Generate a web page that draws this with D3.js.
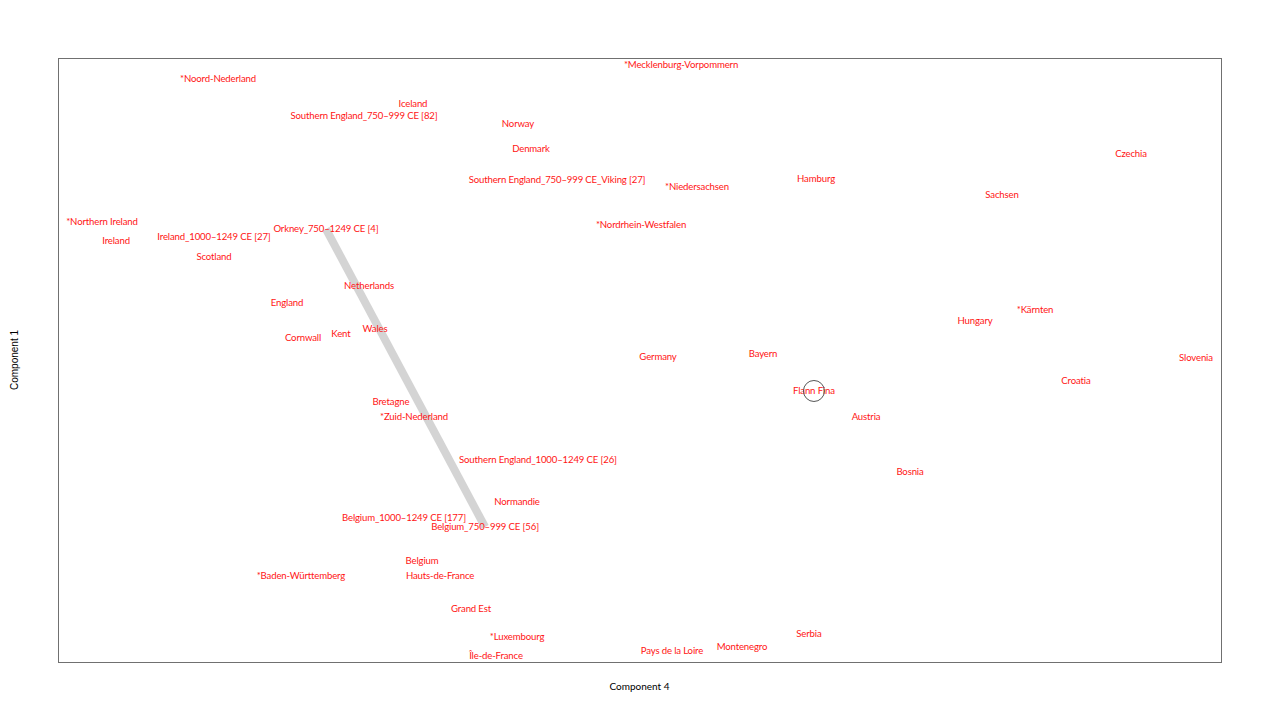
<!DOCTYPE html>
<html lang="en">
<head>
<meta charset="UTF-8">
<script src="https://d3js.org/d3.v7.min.js"></script>
<title>Component plot</title>
<style>
  body { margin: 0; background: #fff; }
  .frame { fill: none; stroke: #707070; stroke-width: 1; shape-rendering: crispEdges; }
  .lab { font-family: Lato, "Open Sans", sans-serif; font-size: 9.6px; letter-spacing: -0.15px; fill: #ff1414; }
  .title { font-family: Lato, "Liberation Sans", sans-serif; font-size: 10px; fill: #000; }
</style>
</head>
<body>
<div class="chart"></div>
<script>
// population labels and their scores on component 4 (x) and component 1 (y)
var names = [
  "*Mecklenburg-Vorpommern", "*Noord-Nederland", "Iceland", "Southern England_750\u2013999 CE [82]",
  "Norway", "Denmark", "Czechia", "Hamburg", "Southern England_750\u2013999 CE_Viking [27]",
  "*Niedersachsen", "Sachsen", "*Nordrhein-Westfalen", "*Northern Ireland", "Orkney_750\u20131249 CE [4]",
  "Ireland", "Ireland_1000\u20131249 CE [27]", "Scotland", "Netherlands", "England", "*K\u00e4rnten",
  "Hungary", "Wales", "Kent", "Cornwall", "Bayern", "Germany", "Slovenia", "Croatia", "Flann Fina",
  "Bretagne", "*Zuid-Nederland", "Austria", "Southern England_1000\u20131249 CE [26]", "Bosnia",
  "Normandie", "Belgium_1000\u20131249 CE [177]", "Belgium_750\u2013999 CE [56]", "Belgium",
  "*Baden-W\u00fcrttemberg", "Hauts-de-France", "Grand Est", "Serbia", "*Luxembourg", "Montenegro",
  "Pays de la Loire", "\u00cele-de-France"
];
var comp4 = [
  53.57, 13.76, 30.52, 26.31, 39.55, 40.67, 92.26, 65.18, 42.91, 54.94, 81.17, 50.13, 3.78, 23.04,
  4.99, 13.41, 13.41, 26.74, 19.69, 84.01, 78.85, 27.26, 24.33, 21.07, 60.62, 51.59, 97.85, 87.53,
  65.00, 28.63, 30.61, 69.48, 41.27, 73.26, 39.47, 29.75, 36.72, 31.30, 20.89, 32.85, 35.51, 64.57,
  39.47, 58.81, 52.79, 37.66
];
var comp1 = [
  98.84, 96.52, 92.38, 90.40, 89.07, 84.93, 84.11, 79.97, 79.80, 78.64, 77.32, 72.35, 72.85, 71.69,
  69.70, 70.36, 67.05, 62.25, 59.44, 58.28, 56.46, 55.13, 54.30, 53.64, 50.99, 50.50, 50.33, 46.52,
  44.87, 43.05, 40.56, 40.56, 33.44, 31.46, 26.49, 23.84, 22.35, 16.72, 14.24, 14.24, 8.77, 4.64,
  4.14, 2.48, 1.82, 0.99
];
// the grey segment joins these two samples, the circle marks the highlighted one
var linkPair = ["Orkney_750\u20131249 CE [4]", "Belgium_750\u2013999 CE [56]"];
var highlight = "Flann Fina";

var W = 1279, H = 721;
var margin = {top: 58, right: 58, bottom: 59, left: 58};

var data = names.map(function(n, i) { return {name: n, x: comp4[i], y: comp1[i]}; });
var byName = {};
data.forEach(function(d) { byName[d.name] = d; });

var x = d3.scaleLinear().domain([0, 100]).range([margin.left, W - margin.right]);
var y = d3.scaleLinear().domain([0, 100]).range([H - margin.bottom, margin.top]);

var svg = d3.select(".chart").append("svg")
    .attr("width", W)
    .attr("height", H);

svg.append("rect")
    .attr("class", "frame")
    .attr("x", margin.left + 0.5)
    .attr("y", margin.top + 0.5)
    .attr("width", W - margin.left - margin.right)
    .attr("height", H - margin.top - margin.bottom);

var a = byName[linkPair[0]], b = byName[linkPair[1]];
svg.append("line")
    .attr("x1", x(a.x)).attr("y1", y(a.y))
    .attr("x2", x(b.x)).attr("y2", y(b.y))
    .attr("stroke", "#d4d4d4")
    .attr("stroke-width", 8);

svg.selectAll(".lab")
    .data(data)
  .enter().append("text")
    .attr("class", "lab")
    .attr("x", function(d) { return x(d.x); })
    .attr("y", function(d) { return y(d.y); })
    .attr("dy", "0.35em")
    .style("text-anchor", "middle")
    .text(function(d) { return d.name; });

var h = byName[highlight];
svg.append("circle")
    .attr("cx", x(h.x))
    .attr("cy", y(h.y))
    .attr("r", 10.5)
    .attr("fill", "none")
    .attr("stroke", "#555")
    .attr("stroke-width", 1);

svg.append("text")
    .attr("class", "title")
    .attr("x", (margin.left + W - margin.right) / 2)
    .attr("y", 690)
    .style("text-anchor", "middle")
    .text("Component 4");

svg.append("text")
    .attr("class", "title")
    .attr("transform", "translate(18," + ((margin.top + H - margin.bottom) / 2) + ") rotate(-90)")
    .style("text-anchor", "middle")
    .style("font-family", "'Liberation Sans', Arial, sans-serif")
    .text("Component 1");
</script>
</body>
</html>
